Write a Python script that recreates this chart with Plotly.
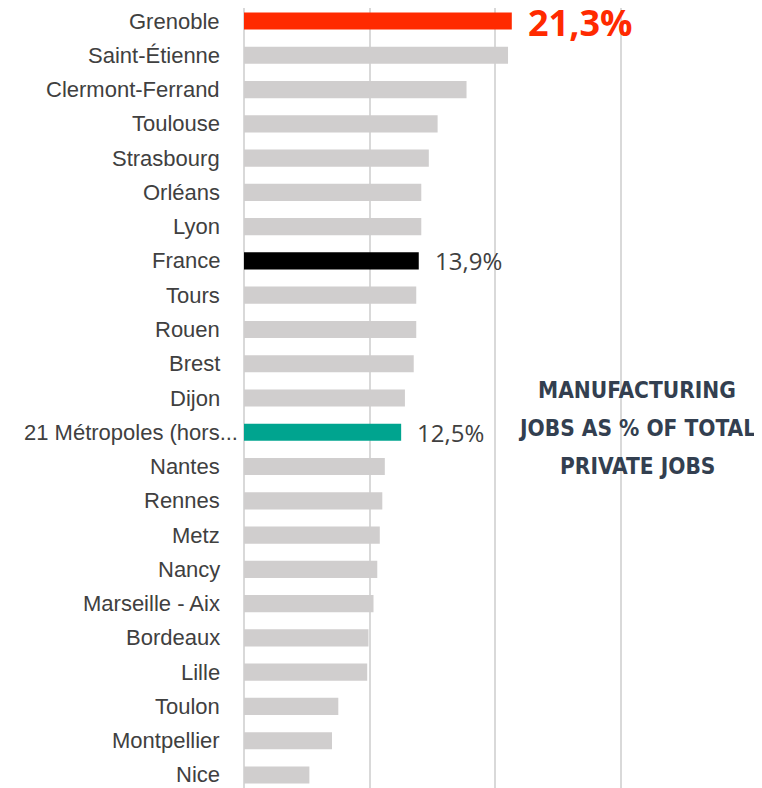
import plotly.graph_objects as go

cities = ["Grenoble", "Saint-Étienne", "Clermont-Ferrand", "Toulouse", "Strasbourg",
          "Orléans", "Lyon", "France", "Tours", "Rouen", "Brest", "Dijon",
          "21 Métropoles (hors...", "Nantes", "Rennes", "Metz", "Nancy",
          "Marseille - Aix", "Bordeaux", "Lille", "Toulon", "Montpellier", "Nice"]
share = [21.3, 21.0, 17.7, 15.4, 14.7, 14.1, 14.1, 13.9, 13.7, 13.7, 13.5, 12.8,
         12.5, 11.2, 11.0, 10.8, 10.6, 10.3, 9.9, 9.8, 7.5, 7.0, 5.2]
highlight_colors = {"Grenoble": "#ff2a00", "France": "#000000",
                    "21 Métropoles (hors...": "#00a48f"}
labelled = {"Grenoble": (36, "#ff2a00", True), "France": (24, "#404040", False),
            "21 Métropoles (hors...": (24, "#404040", False)}
x_ticks = [0, 10, 20, 30]
title_lines = ["MANUFACTURING", "JOBS AS % OF TOTAL", "PRIVATE JOBS"]

colors = [highlight_colors.get(c, "#d0cece") for c in cities]

fig = go.Figure(go.Bar(
    x=share, y=cities, orientation="h",
    marker=dict(color=colors, line=dict(width=0)),
    width=0.5, hoverinfo="skip",
))

# category labels (drawn as annotations so the long one can overhang like the original)
for c in cities:
    fig.add_annotation(xref="paper", x=0, y=c, text=c, showarrow=False,
                       xanchor="right", yanchor="middle",
                       xshift=-4 if c.endswith("...") else -22,
                       font=dict(size=22, color="#404040",
                                 family="Liberation Sans, Arial"))

for c, v in zip(cities, share):
    if c in labelled:
        size, col, bold = labelled[c]
        txt = f"{v:.1f}".replace(".", ",") + "%"
        if bold:
            txt = f"<b>{txt}</b>"
        fig.add_annotation(x=v, y=c, text=txt, showarrow=False, xanchor="left",
                           yanchor="middle", xshift=14, yshift=-1 if bold else 0,
                           font=dict(size=size, color=col,
                                     family="Open Sans, Liberation Sans, Arial"))

for i, line in enumerate(title_lines):
    fig.add_annotation(xref="paper", yref="paper", x=0.7587,
                       y=(788 - (390 + 38 * i)) / 780,
                       text=f"<b>{line}</b>", showarrow=False,
                       xanchor="center", yanchor="middle",
                       font=dict(size=22.5, color="#333f50",
                                 family="DejaVu Sans Condensed, Liberation Sans Narrow, Arial Narrow"))

fig.update_layout(
    width=754, height=780,
    margin=dict(l=236, r=0, t=0, b=0, autoexpand=False),
    paper_bgcolor="white", plot_bgcolor="white",
    showlegend=False,
    font=dict(family="Liberation Sans, Arial", size=19, color="#404040"),
    xaxis=dict(range=[0, 41.2], tickvals=x_ticks, showticklabels=False,
               showgrid=True, gridcolor="#d9d9d9", gridwidth=2,
               zeroline=True, zerolinecolor="#d9d9d9", zerolinewidth=2,
               showline=False, fixedrange=True),
    yaxis=dict(range=[22.38, -0.38], type="category", showgrid=False,
               ticks="", showticklabels=False),
)

fig.write_html("out.html")
